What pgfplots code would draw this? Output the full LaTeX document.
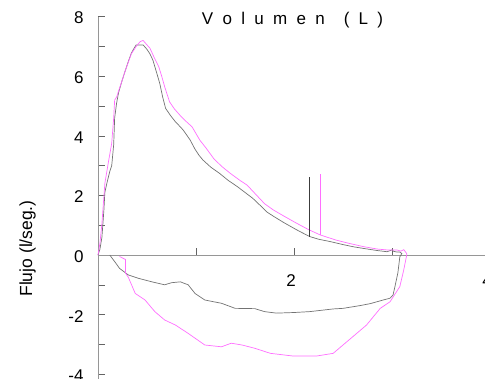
\documentclass[border=0pt]{standalone}
\usepackage{fontspec}
\setmainfont{Liberation Sans}
\usepackage{pgfplots}
\pgfplotsset{compat=1.18}
\definecolor{curvegray}{RGB}{115,115,115}
\definecolor{curvemag}{RGB}{255,110,255}
\definecolor{axgray}{RGB}{150,150,150}
\definecolor{tickgray}{RGB}{100,100,100}
\definecolor{markgray}{RGB}{60,60,60}

\pgfplotstableread{
x y
0 0
0.02 0.2
0.04 0.6
0.06 1.5
0.07 2.1
0.09 2.4
0.12 2.8
0.14 3.0
0.16 3.7
0.17 4.6
0.19 5.1
0.21 5.45
0.25 5.9
0.28 6.2
0.31 6.5
0.34 6.77
0.37 6.95
0.39 7.05
0.46 7.05
0.50 6.9
0.53 6.75
0.56 6.54
0.60 6.1
0.63 5.76
0.66 5.3
0.69 4.92
0.74 4.68
0.79 4.47
0.84 4.3
0.87 4.19
0.90 4.05
0.94 3.86
0.99 3.55
1.03 3.35
1.07 3.19
1.15 2.95
1.24 2.74
1.33 2.50
1.42 2.30
1.50 2.10
1.58 1.90
1.65 1.68
1.72 1.45
1.80 1.28
1.90 1.08
2.03 0.84
2.10 0.72
2.16 0.62
2.25 0.53
2.37 0.45
2.50 0.35
2.60 0.28
2.71 0.22
2.85 0.15
2.95 0.11
3.00 0.17
3.02 0.12
3.05 0.10
3.08 0.10
3.10 0.05
3.08 -0.06
3.06 -0.60
3.03 -1.06
3.01 -1.35
2.98 -1.45
2.91 -1.51
2.78 -1.63
2.67 -1.70
2.50 -1.79
2.40 -1.81
2.16 -1.90
2.00 -1.93
1.82 -1.95
1.70 -1.90
1.60 -1.80
1.40 -1.79
1.26 -1.62
1.09 -1.51
0.99 -1.29
0.92 -1.00
0.84 -0.90
0.75 -0.93
0.68 -1.00
0.55 -0.90
0.41 -0.78
0.31 -0.67
0.22 -0.45
0.17 -0.22
0.12 0
}\graycurve

\pgfplotstableread{
x y
0 0
0.02 0.4
0.04 1.06
0.07 2.4
0.10 3.0
0.14 3.75
0.16 4.6
0.17 5.2
0.19 5.3
0.22 5.6
0.28 6.2
0.34 6.75
0.39 7.0
0.43 7.16
0.46 7.2
0.50 7.05
0.53 6.94
0.57 6.65
0.62 6.32
0.65 6.0
0.68 5.65
0.73 5.14
0.78 4.9
0.85 4.64
0.90 4.48
0.96 4.3
1.04 3.85
1.10 3.6
1.18 3.24
1.26 2.98
1.35 2.74
1.45 2.50
1.52 2.35
1.62 2.00
1.70 1.72
1.79 1.51
1.90 1.30
2.03 1.06
2.15 0.85
2.27 0.67
2.43 0.50
2.55 0.40
2.71 0.28
2.85 0.20
2.95 0.17
3.05 0.17
3.09 0.13
3.12 0.18
3.15 0.05
3.15 0
3.12 -0.50
3.08 -1.06
2.98 -1.57
2.88 -1.79
2.74 -2.35
2.64 -2.63
2.50 -3.02
2.40 -3.30
2.23 -3.39
1.99 -3.39
1.76 -3.30
1.60 -3.13
1.47 -3.02
1.36 -2.96
1.26 -3.08
1.09 -3.02
0.92 -2.63
0.79 -2.35
0.68 -2.18
0.58 -1.90
0.48 -1.51
0.38 -1.29
0.31 -0.75
0.28 -0.60
0.28 -0.15
0.22 -0.05
}\magcurve

\begin{document}
\begin{tikzpicture}
\begin{axis}[
  x=98pt, y=29.8pt,
  xmin=0, xmax=4.3, ymin=-4.6, ymax=8,
  axis lines=middle,
  axis line style={draw=axgray, line width=0.8pt, -},
  clip=false,
  xtick={2,4}, xticklabels={2,4},
  minor xtick={1,3},
  ytick={-4,-2,0,2,4,6,8}, yticklabels={-4,-2,0,2,4,6,8},
  minor ytick={-3,-1,1,3,5,7},
  hide obscured x ticks=false, hide obscured y ticks=false,
  tick align=inside,
  major tick length=7pt, minor tick length=7pt,
  tick style={draw=tickgray, line width=0.6pt},
  ticklabel style={font=\fontsize{17}{19}\selectfont},
  xticklabel style={yshift=-16pt, xshift=-3pt},
  yticklabel style={xshift=-11pt, yshift=-1.5pt},
  ylabel={Flujo (l/seg.)},
  ylabel style={at={(axis cs:-0.672,0.22)}, anchor=base, rotate=90, font=\fontsize{17.5}{19}\selectfont},
]
\addplot[curvegray, line width=0.7pt] table {\graycurve};
\addplot[curvemag, line width=0.7pt] table {\magcurve};
\addplot[markgray, line width=0.7pt] coordinates {(2.155,0.61) (2.155,2.62)};
\addplot[curvemag, line width=0.7pt] coordinates {(2.265,0.67) (2.265,2.72)};
\node[font=\fontsize{17}{20}\selectfont, anchor=base] at (axis cs:1.985,7.75)
  {V\hspace{9.3pt}o\hspace{9.3pt}l\hspace{9.3pt}u\hspace{9.3pt}m\hspace{9.3pt}e\hspace{9.3pt}n\hspace{19pt}(\hspace{9.3pt}L\hspace{9.3pt})};
\coordinate (bbsw) at (axis cs:-1,-4.128);
\coordinate (bbne) at (axis cs:3.949,8.557);
\end{axis}
\pgfresetboundingbox
\path[use as bounding box] (bbsw) rectangle (bbne);
\end{tikzpicture}
\end{document}
